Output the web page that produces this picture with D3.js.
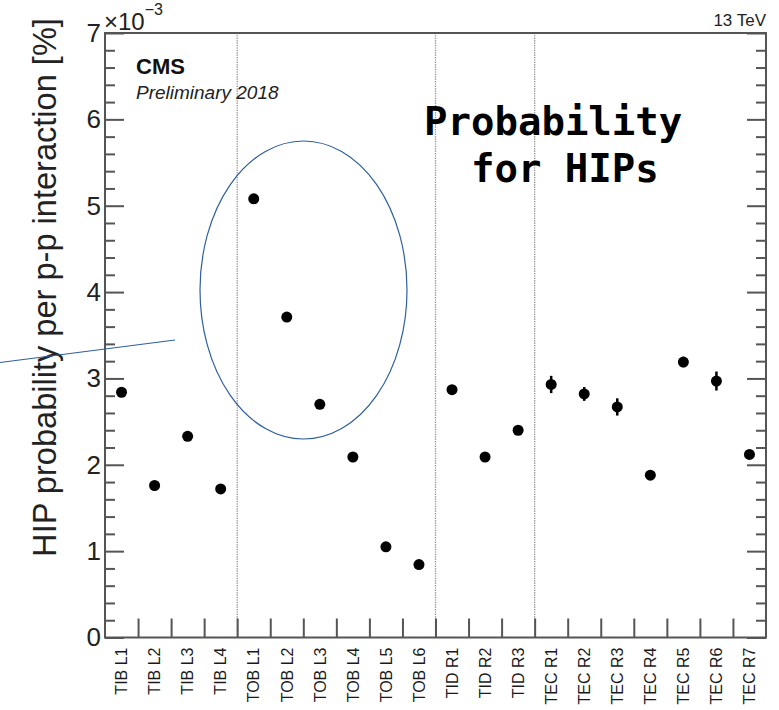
<!DOCTYPE html>
<html>
<head>
<meta charset="utf-8">
<script src="https://cdn.jsdelivr.net/npm/d3@7"></script>
<style>
  body { margin: 0; background: #fff; }
  svg { display: block; }
</style>
</head>
<body>
<div id="viz"></div>
<script>
var width = 779,
    height = 710;

// layers of the tracker
var labels = ["TIB L1", "TIB L2", "TIB L3", "TIB L4",
    "TOB L1", "TOB L2", "TOB L3", "TOB L4", "TOB L5", "TOB L6",
    "TID R1", "TID R2", "TID R3",
    "TEC R1", "TEC R2", "TEC R3", "TEC R4", "TEC R5", "TEC R6", "TEC R7"];

// HIP probability, in units of 1e-3 %
var values = [2.84, 1.76, 2.33, 1.72,
    5.08, 3.71, 2.70, 2.09, 1.05, 0.845,
    2.87, 2.09, 2.40,
    2.93, 2.82, 2.67, 1.88, 3.19, 2.97, 2.12];
var errors = [0.02, 0.02, 0.02, 0.02,
    0.02, 0.02, 0.02, 0.02, 0.02, 0.02,
    0.03, 0.03, 0.03,
    0.10, 0.08, 0.10, 0.05, 0.06, 0.11, 0.05];

// bins after which a subdetector ends
var boundaries = [4, 10, 13];
var yTicks = [0, 1, 2, 3, 4, 5, 6, 7];

// plot frame (don't call it "top", that's window.top)
var pLeft = 105, pRight = 766, pTop = 33, pBottom = 637.5;

var svg = d3.select("#viz").append("svg")
    .attr("width", width)
    .attr("height", height);

var x = d3.scaleBand().domain(labels).range([pLeft, pRight]).padding(0);
var xEdge = d3.scaleLinear().domain([0, labels.length]).range([pLeft, pRight]);
var y = d3.scaleLinear().domain([0, 7]).range([pBottom, pTop]);

var axisColor = "#555";
var font = "'Liberation Sans', Arial, sans-serif";

var minorTicks = d3.range(0, 36).map(function(i) { return i * 0.2; })
    .filter(function(v) { return v <= 7.001 && Math.abs(v - Math.round(v)) > 0.01; });

// dotted separators between subdetectors
svg.append("g").selectAll("line")
    .data(boundaries)
    .enter().append("line")
    .attr("x1", function(d) { return xEdge(d); })
    .attr("x2", function(d) { return xEdge(d); })
    .attr("y1", pTop)
    .attr("y2", pBottom)
    .attr("stroke", "#888")
    .attr("stroke-width", 1.3)
    .attr("stroke-dasharray", "1.2,1.2");

// left axis, major + minor ticks pointing inwards
var yMajor = svg.append("g")
    .attr("transform", "translate(" + pLeft + ",0)")
    .call(d3.axisLeft(y).tickValues(yTicks).tickSize(-19).tickPadding(4).tickFormat(d3.format("d")));
var yMinor = svg.append("g")
    .attr("transform", "translate(" + pLeft + ",0)")
    .call(d3.axisLeft(y).tickValues(minorTicks).tickSize(-10).tickFormat(""));

// right axis mirror
var yMajorR = svg.append("g")
    .attr("transform", "translate(" + pRight + ",0)")
    .call(d3.axisRight(y).tickValues(yTicks).tickSize(-19).tickFormat(""));
var yMinorR = svg.append("g")
    .attr("transform", "translate(" + pRight + ",0)")
    .call(d3.axisRight(y).tickValues(minorTicks).tickSize(-10).tickFormat(""));

// bottom ticks at bin edges
var xTicks = svg.append("g")
    .attr("transform", "translate(0," + pBottom + ")")
    .call(d3.axisBottom(xEdge).tickValues(d3.range(1, labels.length)).tickSize(-19).tickFormat(""));

// bin labels
var xLab = svg.append("g")
    .attr("transform", "translate(0," + pBottom + ")")
    .call(d3.axisBottom(x).tickSize(0).tickPadding(0));
xLab.select(".domain").remove();
xLab.selectAll("text")
    .attr("y", 0)
    .attr("x", 0)
    .attr("dy", "0.36em")
    .attr("transform", "translate(0,10) rotate(-90)")
    .attr("text-anchor", "end")
    .style("font-family", font)
    .style("font-size", "16px")
    .attr("fill", "#1a1a1a");

[yMajor, yMinor, yMajorR, yMinorR, xTicks].forEach(function(g) {
    g.select(".domain").remove();
    g.selectAll("line").attr("stroke", axisColor).attr("stroke-width", 2);
});
yMajor.selectAll("text")
    .style("font-family", font)
    .style("font-size", "26px")
    .attr("fill", "#222");

// frame
svg.append("rect")
    .attr("x", pLeft)
    .attr("y", pTop)
    .attr("width", pRight - pLeft)
    .attr("height", pBottom - pTop)
    .attr("fill", "none")
    .attr("stroke", axisColor)
    .attr("stroke-width", 2);

// error bars
svg.append("g").selectAll("line")
    .data(values)
    .enter().append("line")
    .attr("x1", function(d, i) { return x(labels[i]) + x.bandwidth() / 2; })
    .attr("x2", function(d, i) { return x(labels[i]) + x.bandwidth() / 2; })
    .attr("y1", function(d, i) { return y(d + errors[i]); })
    .attr("y2", function(d, i) { return y(d - errors[i]); })
    .attr("stroke", "#000")
    .attr("stroke-width", 2.5);

// markers
svg.append("g").selectAll("circle")
    .data(values)
    .enter().append("circle")
    .attr("cx", function(d, i) { return x(labels[i]) + x.bandwidth() / 2; })
    .attr("cy", function(d) { return y(d); })
    .attr("r", 5.5)
    .attr("fill", "#000");

// exponent label
var expo = svg.append("text")
    .attr("x", pLeft - 1)
    .attr("y", 30)
    .style("font-family", font)
    .style("font-size", "24px")
    .attr("fill", "#222");
expo.append("tspan").text("\u00d710");
expo.append("tspan").attr("dy", -15).style("font-size", "16px").text("\u22123");

// energy
svg.append("text")
    .attr("x", pRight)
    .attr("y", 26)
    .attr("text-anchor", "end")
    .style("font-family", font)
    .style("font-size", "17px")
    .attr("fill", "#222")
    .text("13 TeV");

svg.append("text")
    .attr("x", 136)
    .attr("y", 74)
    .style("font-family", font)
    .style("font-size", "22px")
    .style("font-weight", "bold")
    .attr("fill", "#111")
    .text("CMS");

svg.append("text")
    .attr("x", 136)
    .attr("y", 99)
    .style("font-family", font)
    .style("font-size", "19px")
    .style("font-style", "italic")
    .attr("fill", "#222")
    .text("Preliminary 2018");

// y title, scaled to its length in the reference
var yTitle = svg.append("text")
    .attr("transform", "translate(56," + ((18 + 557) / 2) + ") rotate(-90)")
    .attr("text-anchor", "middle")
    .style("font-family", font)
    .style("font-size", "32px")
    .attr("fill", "#222")
    .text("HIP probability per p-p interaction [%]");
var len = yTitle.node().getComputedTextLength();
yTitle.style("font-size", (32 * 539 / len) + "px");

// annotation
var note = svg.append("text")
    .style("font-family", "'DejaVu Sans Mono', monospace")
    .style("font-size", "39px")
    .style("font-weight", "bold")
    .attr("fill", "#000");
note.append("tspan").attr("x", 424).attr("y", 135).text("Probability");
note.append("tspan").attr("x", 424 + 2 * 0.602 * 39).attr("y", 182).text("for HIPs");

svg.append("ellipse")
    .attr("cx", 303.5)
    .attr("cy", 290)
    .attr("rx", 103.5)
    .attr("ry", 149)
    .attr("fill", "none")
    .attr("stroke", "#2f5f9e")
    .attr("stroke-width", 1.2);

svg.append("line")
    .attr("x1", 0)
    .attr("y1", 362.5)
    .attr("x2", 175)
    .attr("y2", 340)
    .attr("stroke", "#2f5f9e")
    .attr("stroke-width", 1.2);
</script>
</body>
</html>
